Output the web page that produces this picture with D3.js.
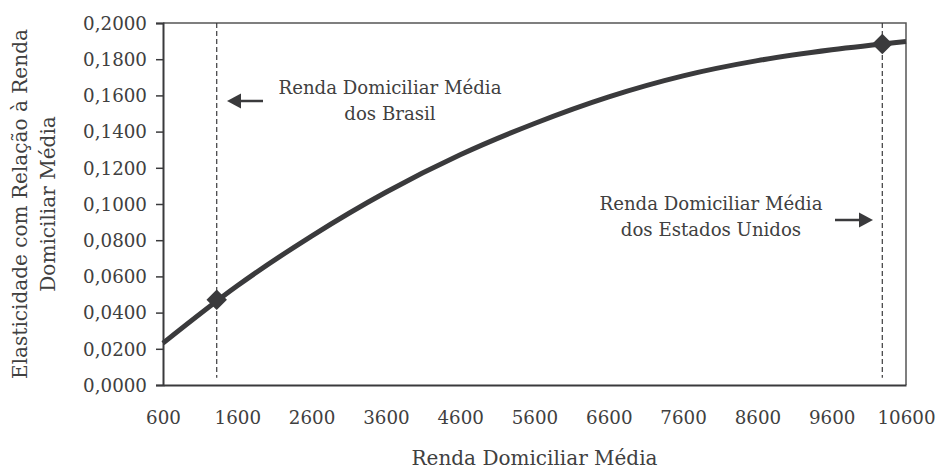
<!DOCTYPE html>
<html><head><meta charset="utf-8">
<script src="https://cdn.jsdelivr.net/npm/d3@7"></script>
<style>
body{margin:0;background:#fff}
svg{display:block}
</style>
</head><body><svg id="c" width="937" height="469" font-family="DejaVu Serif, Liberation Serif, serif"></svg>
<script>
// ---- data ----
const income = [600, 1600, 2600, 3600, 4600, 5600, 6600, 7600, 8600, 9600, 10600];
const elasticity = [0.0231, 0.0548, 0.0823, 0.1065, 0.1272, 0.1445, 0.1592, 0.1708, 0.1792, 0.1852, 0.1898];
const xTicks = [600, 1600, 2600, 3600, 4600, 5600, 6600, 7600, 8600, 9600, 10600];
const yTicks = [0, 0.02, 0.04, 0.06, 0.08, 0.10, 0.12, 0.14, 0.16, 0.18, 0.20];
const markerCountry = ["Brasil", "Estados Unidos"];
const markerIncome = [1323, 10281];
const markerElasticity = [0.0471, 0.1884];
const annotationLines = [["Renda Domiciliar Média", "dos Brasil"], ["Renda Domiciliar Média", "dos Estados Unidos"]];
const xTitle = "Renda Domiciliar Média";
const yTitle = ["Elasticidade com Relação à Renda", "Domiciliar Média"];

// ---- layout ----
const W = 937, H = 469;
const m = {left: 163, right: 31, top: 23, bottom: 84};
const svg = d3.select("#c");
const FF = "DejaVu Serif, Liberation Serif, serif";
const x = d3.scaleLinear().domain([600, 10600]).range([m.left, W - m.right]);
const y = d3.scaleLinear().domain([0, 0.2]).range([H - m.bottom, m.top]);
const ink = "#3a3a3c";
const txt = "#404040";
const loc = d3.formatLocale({decimal: ",", thousands: ".", grouping: [3], currency: ["R$", ""]});
const fmtY = loc.format(".4f");

// size a font so that a sample string reaches a target width
function fitSize(sample, targetW) {
  const t = svg.append("text").attr("font-family", FF).attr("font-size", 20).text(sample);
  const w = t.node().getComputedTextLength();
  t.remove();
  return 20 * targetW / w;
}
const fsTick = fitSize("0,2000", 64);
const fsAnn = fitSize("Renda Domiciliar Média", 223);
const fsXT = fitSize("Renda Domiciliar Média", 246);
const fsYT = fitSize("Elasticidade com Relação à Renda", 350);

// frame (top and right)
svg.append("path")
  .attr("d", `M${x(600)},${y(0.2)}H${x(10600)}V${y(0)}`)
  .attr("fill", "none").attr("stroke", "#555").attr("stroke-width", 1.5);

// y axis
const gy = svg.append("g").attr("transform", `translate(${m.left},0)`)
  .call(d3.axisLeft(y).tickValues(yTicks).tickFormat(fmtY).tickSize(7).tickPadding(9));
gy.attr("font-family", FF).attr("font-size", fsTick);
gy.select(".domain").attr("stroke", ink).attr("stroke-width", 2);
gy.selectAll(".tick line").attr("stroke", ink).attr("stroke-width", 1.5);
gy.selectAll(".tick text").attr("fill", txt).attr("dy", "0.34em");

// x axis
const gx = svg.append("g").attr("transform", `translate(0,${y(0)})`)
  .call(d3.axisBottom(x).tickValues(xTicks).tickFormat(d3.format("d")).tickSize(0).tickPadding(26));
gx.attr("font-family", FF).attr("font-size", fsTick);
gx.select(".domain").attr("stroke", ink).attr("stroke-width", 2);
gx.selectAll(".tick text").attr("fill", txt);

// dashed reference lines
svg.selectAll(".ref").data(markerIncome).join("line")
  .attr("x1", d => x(d)).attr("x2", d => x(d))
  .attr("y1", y(0.2)).attr("y2", y(0.004))
  .attr("stroke", ink).attr("stroke-width", 1.2).attr("stroke-dasharray", "5,3");

// curve
const pts = income.map((d, i) => [d, elasticity[i]]);
svg.append("path").datum(pts)
  .attr("d", d3.line().x(d => x(d[0])).y(d => y(d[1])).curve(d3.curveMonotoneX))
  .attr("fill", "none").attr("stroke", ink).attr("stroke-width", 5);

// diamonds
svg.selectAll(".mk").data(markerIncome).join("path")
  .attr("d", d3.symbol(d3.symbolSquare, 210))
  .attr("transform", (d, i) => `translate(${x(d)},${y(markerElasticity[i])}) rotate(45)`)
  .attr("fill", ink);

// annotations
const ann = [
  {cx: 390, y0: 94, arrowFrom: 263, arrowTo: 227, ay: 101},
  {cx: 711, y0: 210, arrowFrom: 835, arrowTo: 873, ay: 220}
];
ann.forEach((a, i) => {
  const t = svg.append("text").attr("text-anchor", "middle").attr("font-family", FF).attr("font-size", fsAnn).attr("fill", txt);
  annotationLines[i].forEach((ln, j) => t.append("tspan").attr("x", a.cx).attr("y", a.y0 + j * 26).text(ln));
  const dir = Math.sign(a.arrowTo - a.arrowFrom);
  const headLen = 14, headHalf = 7.5;
  svg.append("line").attr("x1", a.arrowFrom).attr("x2", a.arrowTo - dir * headLen)
    .attr("y1", a.ay).attr("y2", a.ay).attr("stroke", ink).attr("stroke-width", 2.5);
  svg.append("path")
    .attr("d", `M${a.arrowTo},${a.ay}L${a.arrowTo - dir * headLen},${a.ay - headHalf}L${a.arrowTo - dir * headLen},${a.ay + headHalf}Z`)
    .attr("fill", ink);
});

// axis titles
svg.append("text").attr("x", (x(600) + x(10600)) / 2).attr("y", 465)
  .attr("text-anchor", "middle").attr("font-family", FF).attr("font-size", fsXT).attr("fill", txt).text(xTitle);
const yt = svg.append("text").attr("transform", `translate(0,${(y(0) + y(0.2)) / 2}) rotate(-90)`)
  .attr("text-anchor", "middle").attr("font-family", FF).attr("font-size", fsYT).attr("fill", txt);
yt.append("tspan").attr("x", 0).attr("y", 27).text(yTitle[0]);
yt.append("tspan").attr("x", 0).attr("y", 55).text(yTitle[1]);
</script>
</body></html>
